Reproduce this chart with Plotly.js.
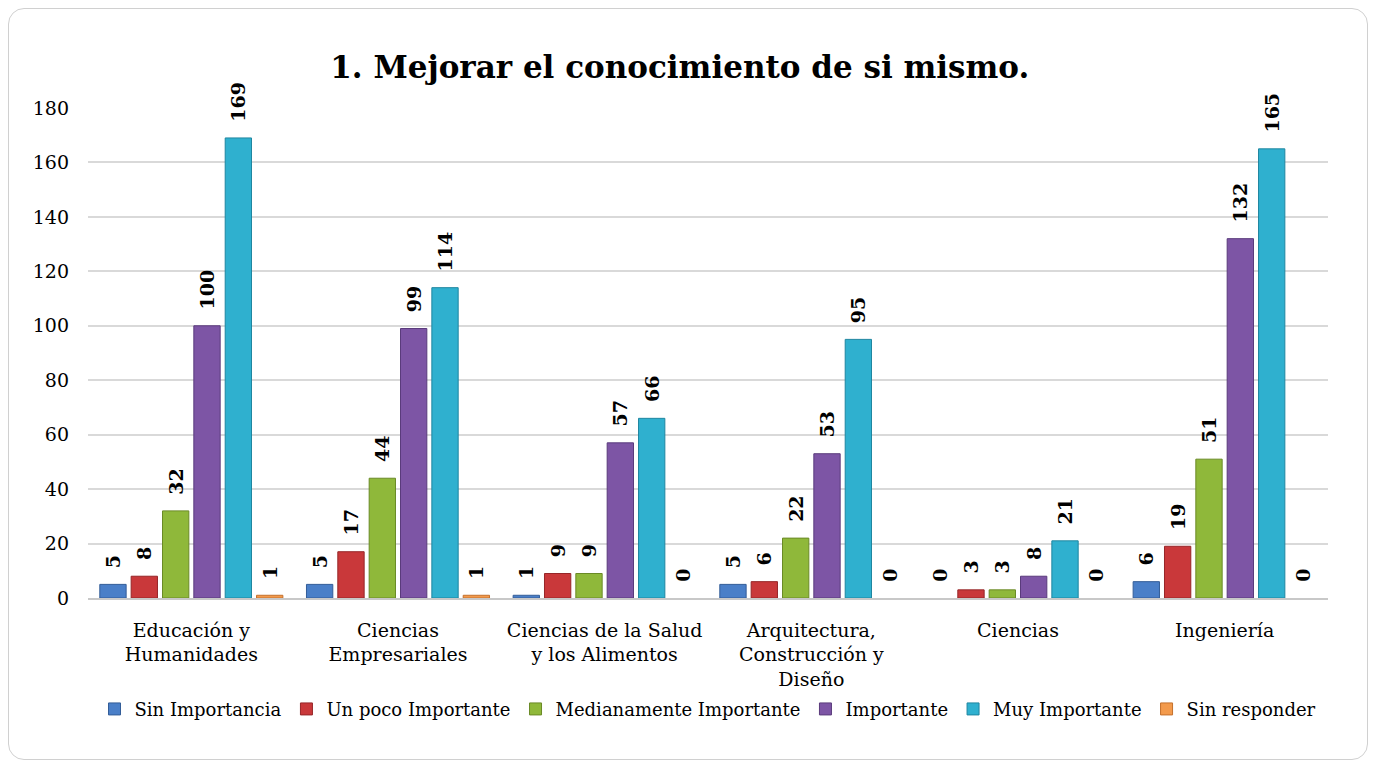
<!DOCTYPE html>
<html>
<head>
<meta charset="utf-8">
<script src="https://cdn.plot.ly/plotly-3.0.1.min.js"></script>
<style>
html,body{margin:0;padding:0;background:#fff;}
#wrap{position:relative;width:1376px;height:768px;}
#frame{position:absolute;left:8px;top:8px;width:1358px;height:750px;border:1.5px solid #d0d0d0;border-radius:16px;pointer-events:none;z-index:5;}
#chart{position:absolute;left:0;top:0;width:1376px;height:768px;}
</style>
</head>
<body>
<div id="wrap"><div id="chart"></div><div id="frame"></div></div>
<script>
const categories = ["Educación y<br>Humanidades", "Ciencias<br>Empresariales", "Ciencias de la Salud<br>y los Alimentos", "Arquitectura,<br>Construcción y<br>Diseño", "Ciencias", "Ingeniería"];
const seriesNames = ["Sin Importancia", "Un poco Importante", "Medianamente Importante", "Importante", "Muy Importante", "Sin responder"];
const sinImportancia = [5, 5, 1, 5, 0, 6];
const unPocoImportante = [8, 17, 9, 6, 3, 19];
const medianamenteImportante = [32, 44, 9, 22, 3, 51];
const importante = [100, 99, 57, 53, 8, 132];
const muyImportante = [169, 114, 66, 95, 21, 165];
const sinResponder = [1, 1, 0, 0, 0, 0];
const yTicks = [0, 20, 40, 60, 80, 100, 120, 140, 160, 180];

const seriesValues = [sinImportancia, unPocoImportante, medianamenteImportante, importante, muyImportante, sinResponder];
const colors = ["#4a7fc8", "#c9383a", "#8fb83a", "#7d55a5", "#2fb0cf", "#f39a4c"];
const lineColors = ["#335d98", "#962628", "#6a8a26", "#5a3b7c", "#1f86a0", "#c4702c"];
const FONT = "DejaVu Serif, Liberation Serif, serif";
const PAD = "\u00a0\u00a0";

const traces = seriesNames.map((name, i) => ({
  type: "bar",
  name: name,
  x: categories,
  y: seriesValues[i],
  marker: {color: colors[i], line: {color: lineColors[i], width: seriesValues[i].map(v => v === 0 ? 0 : 1)}},
  text: seriesValues[i].map(v => PAD + String(v)),
  texttemplate: "%{text}",
  textposition: "outside",
  textangle: -90,
  constraintext: "none",
  cliponaxis: false,
  textfont: {family: FONT, size: 19, color: "#000", weight: "bold"},
  hoverinfo: "x+y+name"
}));

const layout = {
  width: 1376, height: 768,
  paper_bgcolor: "#ffffff", plot_bgcolor: "#ffffff",
  margin: {l: 88, r: 48, t: 108, b: 170},
  title: {text: "<b>1. Mejorar el conocimiento de si mismo.</b>", font: {family: FONT, size: 31, color: "#000"}, x: 0.494, xanchor: "center", y: 0.913, yanchor: "middle"},
  barmode: "group",
  bargap: 0.09,
  bargroupgap: 0.16,
  xaxis: {
    tickfont: {family: FONT, size: 19, color: "#000"},
    showline: true, linecolor: "#c8c8c8", linewidth: 1.5,
    ticks: "", showgrid: false, ticklabelstandoff: 14
  },
  yaxis: {
    range: [0, 180], tickvals: yTicks, ticktext: yTicks.map(String),
    tickfont: {family: FONT, size: 19, color: "#000"},
    showgrid: true, gridcolor: "#d9d9d9", gridwidth: 1.5,
    zeroline: false, showline: false, ticks: "", ticklen: 0,
    automargin: false, ticklabelstandoff: 18
  },
  legend: {
    orientation: "h", x: 0.5, xanchor: "center", y: -0.227, yanchor: "middle",
    font: {family: FONT, size: 18, color: "#000"},
    itemwidth: 30, tracegroupgap: 0, traceorder: "normal"
  },
  showlegend: true
};

Plotly.newPlot("chart", traces, layout, {displayModeBar: false, staticPlot: false});
</script>
</body>
</html>
